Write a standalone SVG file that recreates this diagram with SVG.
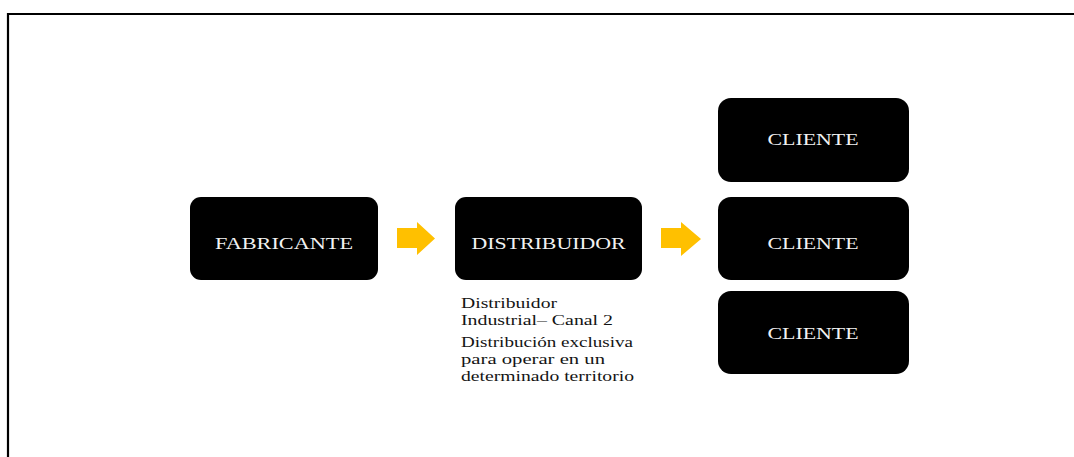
<svg xmlns="http://www.w3.org/2000/svg" width="1074" height="457" viewBox="0 0 1074 457">
  <style>
    .box { fill: #000000; }
    .label { font-family: "Liberation Serif", "Times New Roman", serif; font-size: 17px; fill: #f2f2f2; text-anchor: middle; }
    .note { font-family: "Liberation Serif", "Times New Roman", serif; font-size: 15.5px; fill: #141414; }
    .arrow { fill: #FFC000; }
    .frame { stroke: #000000; stroke-width: 2.2; fill: none; }
  </style>
  <rect width="1074" height="457" fill="#ffffff"/>
  <!-- outer frame: top and left edges -->
  <path class="frame" d="M8 457 V14 H1074"/>

  <g id="fabricante">
    <rect class="box" x="190" y="197" width="188" height="83" rx="11"/>
    <text class="label" x="284" y="249" textLength="138" lengthAdjust="spacingAndGlyphs">FABRICANTE</text>
  </g>

  <g id="distribuidor">
    <rect class="box" x="455" y="197" width="187" height="83" rx="11"/>
    <text class="label" x="548.5" y="249" textLength="154" lengthAdjust="spacingAndGlyphs">DISTRIBUIDOR</text>
  </g>

  <g id="distribuidor-notes">
    <text class="note" x="461" y="308" textLength="96" lengthAdjust="spacingAndGlyphs">Distribuidor</text>
    <text class="note" x="461" y="325" textLength="152" lengthAdjust="spacingAndGlyphs">Industrial– Canal 2</text>
    <text class="note" x="461" y="347" textLength="172" lengthAdjust="spacingAndGlyphs">Distribución exclusiva</text>
    <text class="note" x="461" y="364" textLength="144" lengthAdjust="spacingAndGlyphs">para operar en un</text>
    <text class="note" x="461" y="381" textLength="173" lengthAdjust="spacingAndGlyphs">determinado territorio</text>
  </g>

  <g id="cliente-1">
    <rect class="box" x="718" y="98" width="191" height="84" rx="13"/>
    <text class="label" x="813" y="145" textLength="91" lengthAdjust="spacingAndGlyphs">CLIENTE</text>
  </g>

  <g id="cliente-2">
    <rect class="box" x="718" y="197" width="191" height="83" rx="13"/>
    <text class="label" x="813" y="249" textLength="91" lengthAdjust="spacingAndGlyphs">CLIENTE</text>
  </g>

  <g id="cliente-3">
    <rect class="box" x="718" y="291" width="191" height="83" rx="13"/>
    <text class="label" x="813" y="339" textLength="91" lengthAdjust="spacingAndGlyphs">CLIENTE</text>
  </g>

  <g id="connectors">
    <polygon class="arrow" points="397,228 417,228 417,222 435,238.5 417,255 417,248 397,248"/>
    <polygon class="arrow" points="661,228 681,228 681,222 701,239 681,256 681,248 661,248"/>
  </g>
</svg>
